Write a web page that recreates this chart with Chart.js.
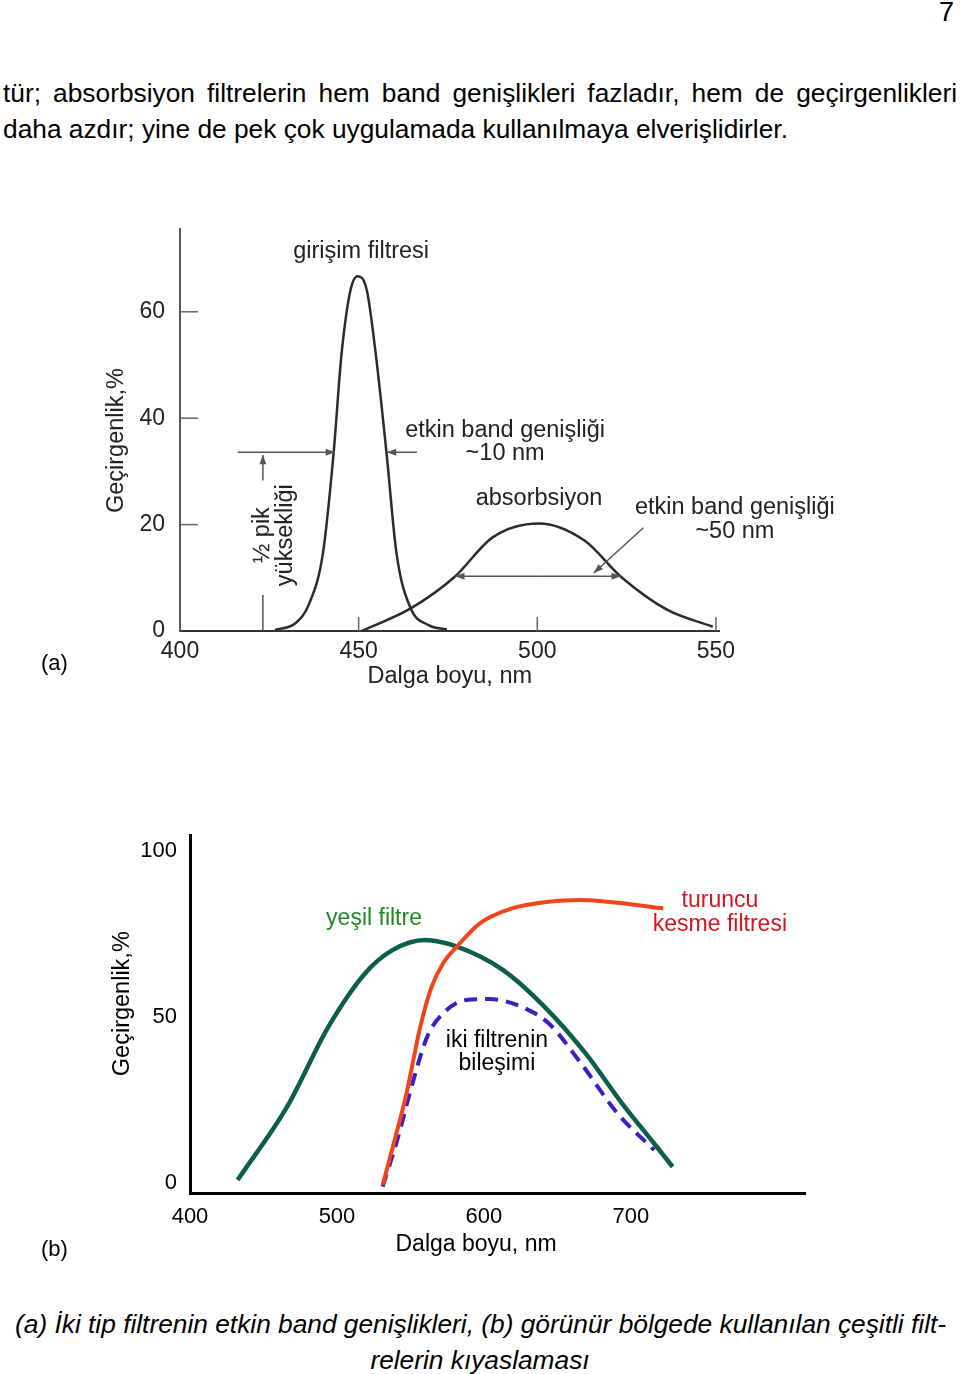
<!DOCTYPE html>
<html lang="tr">
<head>
<meta charset="utf-8">
<script src="https://cdn.jsdelivr.net/npm/chart.js@4.4.1/dist/chart.umd.min.js"></script>
<style>
  html, body { margin: 0; padding: 0; background: #fff; }
  body { width: 960px; height: 1374px; position: relative; overflow: hidden;
         font-family: "Liberation Sans", Arial, sans-serif; color: #000; }
  .abs { position: absolute; white-space: nowrap; }
  #pageNo { left: 939px; top: -3px; font-size: 27px; line-height: 30px; }
  #para { left: 3px; top: 75px; width: 954px; font-size: 26.3px; line-height: 36px; }
  #para .l1 { text-align: justify; text-align-last: justify; }
  #caption { left: 15px; top: 1306px; width: 930px; font-size: 26.3px; line-height: 36px; font-style: italic; }
  #caption .l1 { text-align: justify; text-align-last: justify; }
  #caption .l2 { text-align: center; }
  .tag { font-size: 22px; line-height: 24px; }
  canvas { position: absolute; left: 0; }
  #chartA { top: 200px; }
  #chartB { top: 800px; }
</style>
</head>
<body>
<div id="pageNo" class="abs">7</div>
<div id="para" class="abs">
  <div class="l1">tür; absorbsiyon filtrelerin hem band genişlikleri fazladır, hem de geçirgenlikleri</div>
  <div>daha azdır; yine de pek çok uygulamada kullanılmaya elverişlidirler.</div>
</div>

<canvas id="chartA" width="960" height="520"></canvas>
<canvas id="chartB" width="960" height="490"></canvas>

<div class="abs tag" style="left:41px; top:651px;">(a)</div>
<div class="abs tag" style="left:41px; top:1237px;">(b)</div>

<div id="caption" class="abs">
  <div class="l1">(a) İki tip filtrenin etkin band genişlikleri, (b) görünür bölgede kullanılan çeşitli filt-</div>
  <div class="l2">relerin kıyaslaması</div>
</div>

<script>
// (a) girişim filtresi ve absorbsiyon filtresi
const aXTicks = [400, 450, 500, 550];
const aYTicks = [0, 20, 40, 60];
const girisimNm = [426.6, 432.4, 436.2, 440, 443, 445.2, 447.7, 449.7, 452.3, 454.8, 457.8, 460.6, 464.4, 469.6, 474.7];
const girisimPct = [0.2, 1.5, 5.2, 14.6, 33.5, 52, 64, 66.7, 64, 52, 33.5, 14.6, 4.5, 1.1, 0.3];
const absorbNm = [450.9, 464.7, 476.9, 487.5, 500.4, 513.2, 523.4, 536.3, 549.1];
const absorbPct = [0, 4.3, 10.2, 17.6, 20.2, 17, 10.2, 4, 0.8];

// (b) görünür bölge filtreleri
const bXTicks = [400, 500, 600, 700];
const bYTicks = [0, 50, 100];
const yesilNm = [432.4, 466.1, 494.2, 519.2, 538, 559.8, 581.6, 612.8, 640.9, 669, 693.9, 715.8, 728.3];
const yesilPct = [0.9, 23, 47.1, 63.2, 70.2, 73.2, 71.2, 64.2, 53.2, 39.1, 24, 11.9, 4.9];
const turuncuNm = [531.1, 538, 547.3, 556.7, 564.4, 572.2, 581.6, 597.2, 619, 644, 665.9, 690.8, 722];
const turuncuPct = [-0.6, 10.9, 27, 47.1, 59.1, 66.2, 71.2, 78.2, 82.7, 84.7, 85.2, 84.4, 82.7];
const bilesimNm = [531.1, 541, 552, 561.4, 572.2, 587.8, 603.5, 625.3, 644, 665.9, 690.8, 715.8];
const bilesimPct = [-1.1, 13, 31, 44.1, 51.1, 55.1, 55.4, 53.1, 48.1, 36.1, 21, 9.9];

const toPoints = (xs, ys) => xs.map((x, i) => ({ x: x, y: ys[i] }));
const FONT = '"Liberation Sans", Arial, sans-serif';

// ok çizimi (uçta dolu üçgen)
const arrow = (ctx, x1, y1, x2, y2, head) => {
  ctx.beginPath();
  ctx.moveTo(x1, y1);
  ctx.lineTo(x2, y2);
  ctx.stroke();
  const a = Math.atan2(y2 - y1, x2 - x1);
  ctx.beginPath();
  ctx.moveTo(x2, y2);
  ctx.lineTo(x2 - head * Math.cos(a - 0.35), y2 - head * Math.sin(a - 0.35));
  ctx.lineTo(x2 - head * Math.cos(a + 0.35), y2 - head * Math.sin(a + 0.35));
  ctx.closePath();
  ctx.fill();
};

// döndürülmüş yazı
const vText = (ctx, text, x, y) => {
  ctx.save();
  ctx.translate(x, y);
  ctx.rotate(-Math.PI / 2);
  ctx.fillText(text, 0, 0);
  ctx.restore();
};

const annotateA = {
  id: 'annotateA',
  afterDraw(chart) {
    const { ctx, chartArea, scales: { x, y } } = chart;
    const px = v => x.getPixelForValue(v);
    const py = v => y.getPixelForValue(v);
    ctx.save();
    // iç tik çizgileri
    ctx.strokeStyle = '#666';
    ctx.lineWidth = 1.5;
    aYTicks.slice(1).forEach(v => {
      ctx.beginPath(); ctx.moveTo(chartArea.left, py(v)); ctx.lineTo(chartArea.left + 18, py(v)); ctx.stroke();
    });
    aXTicks.slice(1).forEach(v => {
      ctx.beginPath(); ctx.moveTo(px(v), chartArea.bottom); ctx.lineTo(px(v), chartArea.bottom - 14); ctx.stroke();
    });
    // oklar
    ctx.strokeStyle = '#555';
    ctx.fillStyle = '#555';
    ctx.lineWidth = 1.5;
    arrow(ctx, px(416.2), py(33.6), px(443.4), py(33.6), 10);
    arrow(ctx, px(466.3), py(33.6), px(457.9), py(33.6), 10);
    arrow(ctx, px(423.2), py(28.3), px(423.2), py(33.1), 10);
    ctx.beginPath(); ctx.moveTo(px(423.2), py(0)); ctx.lineTo(px(423.2), py(6.75)); ctx.stroke();
    arrow(ctx, px(500), py(10.3), px(477), py(10.3), 10);
    arrow(ctx, px(500), py(10.3), px(523.4), py(10.3), 10);
    arrow(ctx, px(529.7), py(19.4), px(515.8), py(10.9), 10);
    // yazılar
    ctx.fillStyle = '#222';
    ctx.font = '23.5px ' + FONT;
    ctx.textAlign = 'center';
    ctx.textBaseline = 'middle';
    ctx.fillText('girişim filtresi', px(450.7), py(71.25));
    ctx.fillText('etkin band genişliği', px(491), py(37.7));
    ctx.fillText('~10 nm', px(491), py(33.4));
    ctx.fillText('absorbsiyon', px(500.5), py(24.9));
    ctx.fillText('etkin band genişliği', px(555.3), py(23.25));
    ctx.fillText('~50 nm', px(555.3), py(18.75));
    vText(ctx, '½ pik', px(423.2), py(18));
    vText(ctx, 'yüksekliği', px(429.4), py(18));
    vText(ctx, 'Geçirgenlik,%', 117, py(35.8));
    ctx.restore();
  }
};

const annotateB = {
  id: 'annotateB',
  afterDraw(chart) {
    const { ctx, scales: { x, y } } = chart;
    const px = v => x.getPixelForValue(v);
    const py = v => y.getPixelForValue(v);
    ctx.save();
    ctx.font = '23px ' + FONT;
    ctx.textAlign = 'center';
    ctx.textBaseline = 'middle';
    ctx.fillStyle = '#1f8a22';
    ctx.fillText('yeşil filtre', px(525.2), py(79.5));
    ctx.fillStyle = '#d8141e';
    ctx.fillText('turuncu', px(760.5), py(84.9));
    ctx.fillText('kesme filtresi', px(760.5), py(77.7));
    ctx.fillStyle = '#000';
    ctx.fillText('iki filtrenin', px(608.8), py(42.8));
    ctx.fillText('bileşimi', px(608.8), py(35.8));
    ctx.fillText('Dalga boyu, nm', px(594.6), py(-18.7));
    ctx.font = '23.5px ' + FONT;
    vText(ctx, 'Geçirgenlik,%', 123, py(54));
    ctx.restore();
  }
};

new Chart(document.getElementById('chartA'), {
  type: 'line',
  data: {
    datasets: [
      { data: toPoints(girisimNm, girisimPct), borderColor: '#2b2b2b', borderWidth: 2.5, pointRadius: 0, cubicInterpolationMode: 'monotone', fill: false },
      { data: toPoints(absorbNm, absorbPct), borderColor: '#2b2b2b', borderWidth: 2.5, pointRadius: 0, cubicInterpolationMode: 'monotone', fill: false }
    ]
  },
  options: {
    responsive: false,
    animation: false,
    layout: { padding: { top: 28, right: 240.5, left: 0, bottom: 0 } },
    plugins: { legend: { display: false }, tooltip: { enabled: false } },
    scales: {
      x: {
        type: 'linear', min: 400, max: 551,
        afterBuildTicks: s => { s.ticks = aXTicks.map(v => ({ value: v })); },
        afterFit: s => { s.height = 89; },
        grid: { display: false, drawTicks: false },
        border: { display: true, color: '#333', width: 2 },
        ticks: { color: '#222', font: { family: FONT, size: 23 }, padding: 7, maxRotation: 0, autoSkip: false },
        title: { display: true, text: 'Dalga boyu, nm', color: '#222', font: { family: FONT, size: 23.5 }, padding: { top: 0, bottom: 29 } }
      },
      y: {
        min: 0, max: 75.6,
        afterBuildTicks: s => { s.ticks = aYTicks.map(v => ({ value: v })); },
        afterFit: s => { s.width = 180; },
        grid: { display: false, drawTicks: false },
        border: { display: true, color: '#555', width: 2 },
        ticks: { color: '#222', font: { family: FONT, size: 23 }, padding: 15 }
      }
    }
  },
  plugins: [annotateA]
});

new Chart(document.getElementById('chartB'), {
  type: 'line',
  data: {
    datasets: [
      { data: toPoints(turuncuNm, turuncuPct), borderColor: '#f0451a', borderWidth: 4, pointRadius: 0, cubicInterpolationMode: 'monotone', fill: false, order: 0 },
      { data: toPoints(bilesimNm, bilesimPct), borderColor: '#3a1ec8', borderWidth: 4, borderDash: [13, 8], pointRadius: 0, cubicInterpolationMode: 'monotone', fill: false, order: 1 },
      { data: toPoints(yesilNm, yesilPct), borderColor: '#0b5e4a', borderWidth: 4.5, pointRadius: 0, cubicInterpolationMode: 'monotone', fill: false, order: 2 }
    ]
  },
  options: {
    responsive: false,
    animation: false,
    layout: { padding: { top: 35, right: 155, left: 0, bottom: 0 } },
    plugins: { legend: { display: false }, tooltip: { enabled: false } },
    scales: {
      x: {
        type: 'linear', min: 400, max: 818.4,
        afterBuildTicks: s => { s.ticks = bXTicks.map(v => ({ value: v })); },
        afterFit: s => { s.height = 97; },
        grid: { display: false, drawTicks: false },
        border: { display: true, color: '#000', width: 3 },
        ticks: { color: '#000', font: { family: FONT, size: 22 }, padding: 11, maxRotation: 0, autoSkip: false }
      },
      y: {
        min: -3, max: 104.8,
        afterBuildTicks: s => { s.ticks = bYTicks.map(v => ({ value: v })); },
        afterFit: s => { s.width = 190; },
        grid: { display: false, drawTicks: false },
        border: { display: true, color: '#000', width: 3 },
        ticks: { color: '#000', font: { family: FONT, size: 22 }, padding: 13 }
      }
    }
  },
  plugins: [annotateB]
});
</script>
</body>
</html>
